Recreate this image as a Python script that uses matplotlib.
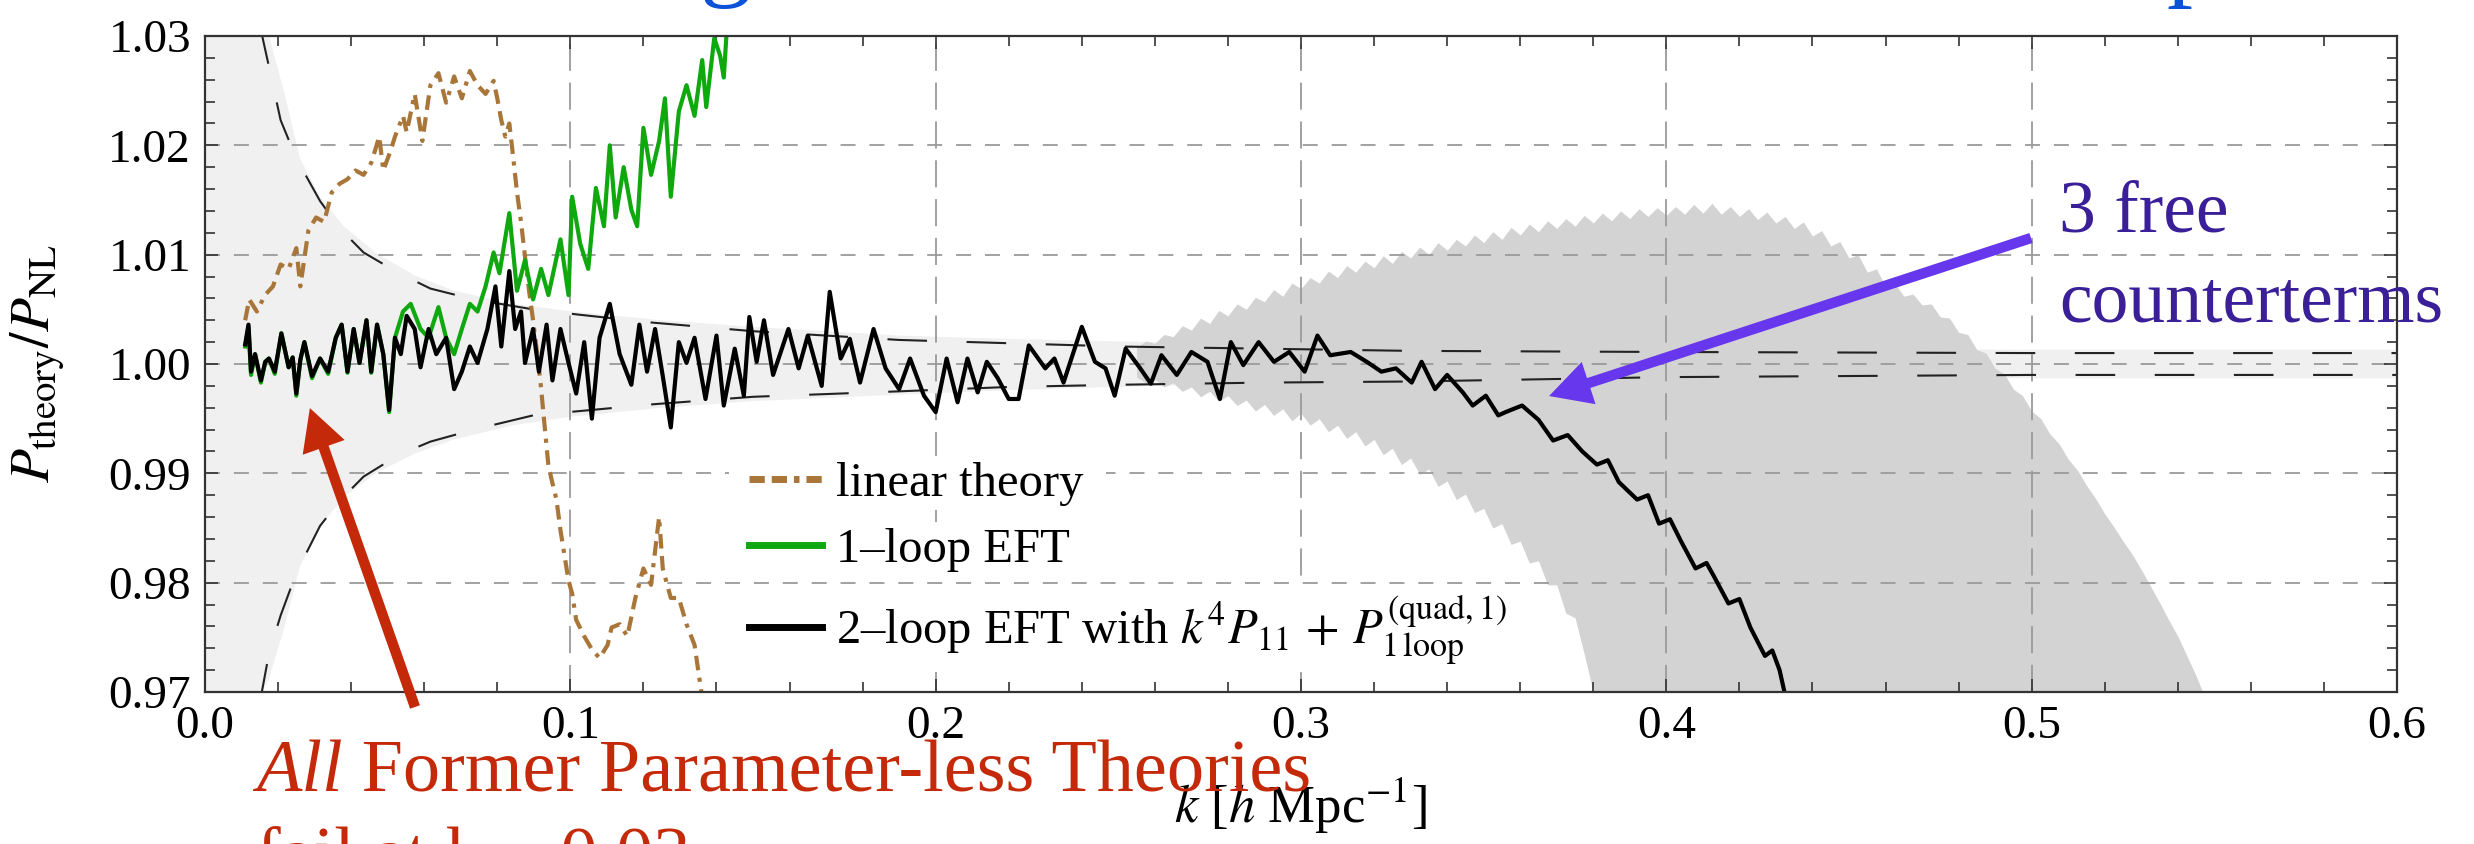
import numpy as np
import matplotlib
matplotlib.use('Agg')
import matplotlib.pyplot as plt
from matplotlib.lines import Line2D
from matplotlib.patches import Rectangle
from matplotlib.ticker import MultipleLocator, FormatStrFormatter

plt.rcParams['font.family'] = ['Liberation Serif', 'DejaVu Serif']
plt.rcParams['mathtext.fontset'] = 'stix'

# ---- data ----
# 2-loop EFT (black)
k_2loop = np.array([
    0.0110, 0.0119, 0.0126, 0.0137, 0.0153, 0.0165, 0.0175, 0.0191, 0.0209, 0.0229,
    0.0240, 0.0250, 0.0261, 0.0272, 0.0293, 0.0315, 0.0337, 0.0358, 0.0374, 0.0390,
    0.0407, 0.0423, 0.0442, 0.0455, 0.0471, 0.0488, 0.0504, 0.0520, 0.0536, 0.0552,
    0.0574, 0.0590, 0.0612, 0.0633, 0.0660, 0.0682, 0.0703, 0.0725, 0.0746, 0.0773,
    0.0795, 0.0811, 0.0833, 0.0849, 0.0865, 0.0876, 0.0898, 0.0914, 0.0935, 0.0951,
    0.0973, 0.0995, 0.1016, 0.1038, 0.1059, 0.1080, 0.1108, 0.1135, 0.1167, 0.1189,
    0.1210, 0.1232, 0.1253, 0.1275, 0.1297, 0.1318, 0.1340,
    0.1370, 0.1400, 0.1420, 0.1450, 0.1475, 0.1490, 0.1510, 0.1530, 0.1555, 0.1597,
    0.1625, 0.1650, 0.1688, 0.1710, 0.1740, 0.1765, 0.1793, 0.1830, 0.1863, 0.1900,
    0.1930, 0.1968, 0.2000, 0.2030, 0.2060, 0.2087, 0.2115, 0.2140, 0.2170, 0.2200,
    0.2227, 0.2255, 0.2300, 0.2325, 0.2350, 0.2400, 0.2436, 0.2465, 0.2490, 0.2520,
    0.2560, 0.2589, 0.2618, 0.2660, 0.2700, 0.2744, 0.2778, 0.2808, 0.2842, 0.2884,
    0.2926, 0.2968, 0.3010, 0.3045, 0.3080, 0.3136, 0.3180, 0.3220, 0.3260, 0.3303,
    0.3330, 0.3367, 0.3400, 0.3443, 0.3470, 0.3506, 0.3540,
    0.3560, 0.3605, 0.3650, 0.3690, 0.3730, 0.3770, 0.3810, 0.3840, 0.3870, 0.3920,
    0.3950, 0.3980, 0.4010, 0.4040, 0.4080, 0.4110, 0.4130, 0.4170, 0.4200, 0.4230,
    0.4270, 0.4290, 0.4310, 0.4330])
r_2loop = np.array([
    1.0018, 1.0036, 0.9993, 1.0009, 0.9985, 1.0002, 1.0005, 0.9993, 1.0028, 0.9997,
    1.0006, 0.9973, 1.0004, 1.0020, 0.9989, 1.0005, 0.9993, 1.0024, 1.0036, 0.9993,
    1.0032, 1.0001, 1.0040, 0.9993, 1.0036, 1.0009, 0.9958, 1.0024, 1.0009, 1.0044,
    1.0032, 0.9997, 1.0032, 1.0009, 1.0024, 0.9977, 0.9993, 1.0016, 1.0001, 1.0032,
    1.0071, 1.0016, 1.0085, 1.0032, 1.0048, 1.0001, 1.0032, 0.9993, 1.0036, 0.9985,
    1.0032, 1.0001, 0.9973, 1.0020, 0.9950, 1.0024, 1.0055, 1.0009, 0.9981, 1.0036,
    0.9993, 1.0032, 0.9989, 0.9942, 1.0020, 1.0001, 1.0024,
    0.9968, 1.0026, 0.9962, 1.0014, 0.9971, 1.0043, 1.0002, 1.0040, 0.9990, 1.0032,
    0.9996, 1.0026, 0.9980, 1.0066, 1.0005, 1.0023, 0.9983, 1.0032, 0.9996, 0.9977,
    1.0005, 0.9971, 0.9956, 1.0005, 0.9965, 1.0005, 0.9974, 1.0002, 0.9987, 0.9968,
    0.9968, 1.0017, 0.9996, 1.0005, 0.9983, 1.0034, 1.0002, 0.9996, 0.9971, 1.0014,
    0.9996, 0.9982, 1.0008, 0.9990, 1.0011, 1.0002, 0.9968, 1.0020, 0.9999, 1.0020,
    1.0002, 1.0011, 0.9993, 1.0026, 1.0008, 1.0011, 1.0002, 0.9993, 0.9996, 0.9983,
    1.0002, 0.9977, 0.9990, 0.9974, 0.9962, 0.9971, 0.9953,
    0.9956, 0.9962, 0.9949, 0.9930, 0.9935, 0.9920, 0.9908, 0.9912, 0.9892, 0.9876,
    0.9880, 0.9854, 0.9858, 0.9838, 0.9813, 0.9818, 0.9806, 0.9781, 0.9785, 0.9759,
    0.9733, 0.9738, 0.9720, 0.9690])

# 1-loop EFT (green)
k_1loop = np.array([
    0.0110, 0.0119, 0.0126, 0.0137, 0.0153, 0.0165, 0.0175, 0.0191, 0.0209, 0.0229,
    0.0240, 0.0250, 0.0261, 0.0272, 0.0293, 0.0315, 0.0337, 0.0358, 0.0374, 0.0390,
    0.0407, 0.0423, 0.0442, 0.0455, 0.0471, 0.0488, 0.0504, 0.0520,
    0.0542, 0.0563, 0.0590, 0.0612, 0.0639, 0.0660, 0.0682, 0.0703, 0.0725, 0.0746,
    0.0768, 0.0790, 0.0806, 0.0833, 0.0854, 0.0876, 0.0898, 0.0920, 0.0940, 0.0973,
    0.0995, 0.1005, 0.1027, 0.1049, 0.1070, 0.1092, 0.1108, 0.1124, 0.1146, 0.1167,
    0.1183, 0.1200, 0.1221, 0.1243, 0.1259, 0.1275, 0.1297, 0.1318, 0.1340, 0.1361,
    0.1372, 0.1394, 0.1410, 0.1420, 0.1430])
r_1loop = np.array([
    1.0016, 1.0034, 0.9990, 1.0009, 0.9983, 1.0002, 1.0005, 0.9991, 1.0028, 0.9997,
    1.0006, 0.9971, 1.0004, 1.0020, 0.9987, 1.0005, 0.9991, 1.0024, 1.0036, 0.9992,
    1.0032, 1.0001, 1.0040, 0.9992, 1.0036, 1.0009, 0.9956, 1.0024,
    1.0048, 1.0055, 1.0032, 1.0024, 1.0052, 1.0024, 1.0009, 1.0032, 1.0055, 1.0048,
    1.0071, 1.0102, 1.0083, 1.0138, 1.0067, 1.0095, 1.0059, 1.0087, 1.0063, 1.0114,
    1.0063, 1.0153, 1.0110, 1.0087, 1.0161, 1.0126, 1.0200, 1.0134, 1.0180, 1.0141,
    1.0126, 1.0216, 1.0173, 1.0204, 1.0243, 1.0153, 1.0231, 1.0255, 1.0227, 1.0278,
    1.0235, 1.0298, 1.0282, 1.0262, 1.0315])

# linear theory (brown)
k_lin = np.array([
    0.0110, 0.0121, 0.0142, 0.0164, 0.0186, 0.0207, 0.0229, 0.0250, 0.0261, 0.0283,
    0.0304, 0.0326, 0.0347, 0.0369, 0.0390, 0.0412, 0.0434, 0.0455, 0.0477, 0.0488,
    0.0509, 0.0520, 0.0542, 0.0552, 0.0574, 0.0595, 0.0617, 0.0639, 0.0660, 0.0682,
    0.0703, 0.0725, 0.0746, 0.0768, 0.0790, 0.0800, 0.0811, 0.0822, 0.0833, 0.0844,
    0.0854, 0.0865, 0.0876, 0.0887, 0.0898, 0.0908, 0.0919, 0.0930, 0.0940, 0.0951,
    0.0962, 0.0973, 0.0984, 0.0995, 0.1005, 0.1016, 0.1038, 0.1059, 0.1080, 0.1102,
    0.1113, 0.1135, 0.1156, 0.1178, 0.1200, 0.1221, 0.1243, 0.1253, 0.1275, 0.1297,
    0.1318, 0.1340, 0.1350, 0.1361])
r_lin = np.array([
    1.0040, 1.0059, 1.0048, 1.0063, 1.0071, 1.0091, 1.0087, 1.0106, 1.0071, 1.0122,
    1.0134, 1.0130, 1.0157, 1.0165, 1.0169, 1.0177, 1.0173, 1.0184, 1.0208, 1.0177,
    1.0196, 1.0208, 1.0227, 1.0212, 1.0247, 1.0204, 1.0255, 1.0266, 1.0239, 1.0263,
    1.0243, 1.0268, 1.0255, 1.0247, 1.0259, 1.0243, 1.0223, 1.0208, 1.0220, 1.0188,
    1.0157, 1.0130, 1.0098, 1.0067, 1.0040, 1.0013, 0.9981, 0.9942, 0.9907, 0.9891,
    0.9876, 0.9848, 0.9825, 0.9802, 0.9790, 0.9766, 0.9751, 0.9739, 0.9731, 0.9743,
    0.9759, 0.9762, 0.9751, 0.9786, 0.9813, 0.9798, 0.9860, 0.9813, 0.9786, 0.9786,
    0.9762, 0.9743, 0.9720, 0.9695])

# light error band and its dashed edges
k_band = np.array([0.0, 0.0175, 0.0218, 0.026, 0.0315, 0.038, 0.0466, 0.0574, 0.0682,
                   0.0844, 0.1005, 0.125, 0.15, 0.19, 0.22, 0.26, 0.30, 0.35, 0.40,
                   0.45, 0.50, 0.55, 0.60])
band_hi = np.array([1.040, 1.0300, 1.0247, 1.0188, 1.0153, 1.0126, 1.0102, 1.0081, 1.0067,
                    1.0055, 1.0048, 1.0040, 1.0034, 1.0026, 1.0023, 1.0020, 1.0018, 1.0016,
                    1.0015, 1.0014, 1.0013, 1.0013, 1.0013])
band_lo = np.array([0.960, 0.9712, 0.9760, 0.9815, 0.9852, 0.9878, 0.9900, 0.9918, 0.9931,
                    0.9944, 0.9952, 0.9960, 0.9966, 0.9972, 0.9976, 0.9980, 0.9982, 0.9984,
                    0.9985, 0.9986, 0.9987, 0.9987, 0.9987])

k_edge = np.array([0.0150, 0.0175, 0.0207, 0.025, 0.0315, 0.0369, 0.0434, 0.0531, 0.0617,
                   0.0736, 0.0898, 0.1027, 0.122, 0.15, 0.19, 0.22, 0.25, 0.29, 0.33,
                   0.40, 0.50, 0.60])
edge_hi = np.array([1.0310, 1.0272, 1.0223, 1.0188, 1.0149, 1.0124, 1.0102, 1.0083, 1.0069,
                    1.0059, 1.0050, 1.0045, 1.0038, 1.0030, 1.0022, 1.0019, 1.0016, 1.0014,
                    1.0012, 1.0011, 1.0010, 1.0010])
edge_lo = np.array([0.9690, 0.9735, 0.9770, 0.9809, 0.9852, 0.9875, 0.9897, 0.9917, 0.9929,
                    0.9940, 0.9953, 0.9957, 0.9963, 0.9970, 0.9975, 0.9979, 0.9981, 0.9983,
                    0.9984, 0.9988, 0.9990, 0.9990])

# dark band (noisy), k = 0.255 ... 0.55 in steps of 0.0025
k_dark = np.arange(0.255, 0.5501, 0.0025)
dark_hi = np.array([
    1.0015, 1.0021, 1.0019, 1.0027, 1.0025, 1.0035, 1.0031, 1.0042, 1.0037, 1.0049,
    1.0044, 1.0055, 1.0050, 1.0061, 1.0057, 1.0068, 1.0062, 1.0074, 1.0069, 1.0079,
    1.0074, 1.0085, 1.0079, 1.0090, 1.0084, 1.0094, 1.0088, 1.0099, 1.0092, 1.0103,
    1.0097, 1.0107, 1.0100, 1.0111, 1.0104, 1.0114, 1.0108, 1.0118, 1.0111, 1.0121,
    1.0114, 1.0125, 1.0118, 1.0128, 1.0121, 1.0131, 1.0124, 1.0133, 1.0126, 1.0136,
    1.0129, 1.0138, 1.0131, 1.0140, 1.0133, 1.0142, 1.0135, 1.0143, 1.0136, 1.0144,
    1.0137, 1.0146, 1.0138, 1.0147, 1.0137, 1.0144, 1.0135, 1.0142, 1.0132, 1.0139,
    1.0129, 1.0135, 1.0124, 1.0130, 1.0117, 1.0122, 1.0108, 1.0112, 1.0097, 1.0100,
    1.0084, 1.0087, 1.0071, 1.0074, 1.0062, 1.0064, 1.0054, 1.0055, 1.0043, 1.0042,
    1.0029, 1.0027, 1.0013, 1.0010, 0.9996, 0.9991, 0.9977, 0.9971, 0.9957, 0.9950,
    0.9936, 0.9927, 0.9913, 0.9903, 0.9889, 0.9877, 0.9863, 0.9851, 0.9838, 0.9826,
    0.9812, 0.9797, 0.9782, 0.9766, 0.9751, 0.9733, 0.9715, 0.9694, 0.9670])
dark_lo = np.array([
    0.9988, 0.9983, 0.9986, 0.9979, 0.9983, 0.9975, 0.9979, 0.9970, 0.9975, 0.9966,
    0.9971, 0.9962, 0.9967, 0.9957, 0.9963, 0.9953, 0.9959, 0.9948, 0.9955, 0.9944,
    0.9950, 0.9938, 0.9944, 0.9932, 0.9938, 0.9925, 0.9931, 0.9917, 0.9923, 0.9908,
    0.9914, 0.9899, 0.9904, 0.9888, 0.9893, 0.9876, 0.9881, 0.9864, 0.9868, 0.9850,
    0.9854, 0.9835, 0.9838, 0.9818, 0.9820, 0.9798, 0.9798, 0.9772, 0.9768, 0.9735,
    0.9700, 0.9650] + [0.9600] * 67)

legend_labels = ['linear theory', '1\u2013loop EFT',
                 '2\u2013loop EFT with $k^4P_{11}\\,+\\,P^{(\\mathrm{quad,1})}_{1\\,\\mathrm{loop}}$']

# ---- colours ----
c_brown = '#A9763A'
c_green = '#0FA80F'
c_red = '#C42A0A'
c_blue_txt = '#3A1F98'
c_blue_arr = '#6637EC'
c_title = '#0A52D8'

W, H = 2474, 844
fig = plt.figure(figsize=(W / 100, H / 100), dpi=100)
ax = fig.add_axes([205 / W, (H - 692) / H, 2192 / W, 656 / H])

ax.fill_between(k_band, band_lo, band_hi, color='#f0f0f0', lw=0, zorder=0.5)
ax.fill_between(k_dark, dark_lo, dark_hi, color='#d3d3d3', lw=0, zorder=0.6)
ax.plot(k_edge, edge_hi, color='#222222', lw=1.5, ls=(0, (19, 19)), zorder=1.8)
ax.plot(k_edge, edge_lo, color='#222222', lw=1.5, ls=(0, (19, 19)), zorder=1.8)

ax.plot(k_lin, r_lin, color=c_brown, lw=3.0, ls=(0, (3.5, 1.8, 3.5, 1.8, 1.0, 1.8)), zorder=2)
ax.plot(k_1loop, r_1loop, color=c_green, lw=3.0, zorder=2.1)
ax.plot(k_2loop, r_2loop, color='black', lw=3.0, zorder=2.2)

ax.set_xlim(0, 0.6)
ax.set_ylim(0.97, 1.03)
ax.xaxis.set_major_locator(MultipleLocator(0.1))
ax.xaxis.set_minor_locator(MultipleLocator(0.02))
ax.yaxis.set_major_locator(MultipleLocator(0.01))
ax.yaxis.set_minor_locator(MultipleLocator(0.002))
ax.xaxis.set_major_formatter(FormatStrFormatter('%.1f'))
ax.yaxis.set_major_formatter(FormatStrFormatter('%.2f'))

ax.xaxis.grid(True, which='major', color='#9a9a9a', lw=1.3, ls=(0, (15, 6.5)))
ax.yaxis.grid(True, which='major', color='#9a9a9a', lw=1.3, ls=(0, (8.3, 7.7)))

ax.tick_params(which='both', direction='in', top=True, right=True, color='#333333',
               width=1.2, labelsize=34, pad=10)
ax.tick_params(which='major', length=9.5)
ax.tick_params(which='minor', length=7.5)
for s in ax.spines.values():
    s.set_color('#333333')
    s.set_linewidth(1.6)

ax.set_ylabel('$P_{\\mathrm{theory}}/P_{\\mathrm{NL}}$', fontsize=40)
ax.yaxis.set_label_coords(-0.063, 0.5)
ax.set_xlabel('$k$ [$h$ Mpc$^{-1}$]', fontsize=38, va='baseline')
ax.xaxis.set_label_coords(0.5, -0.2)

handles = [Line2D([], [], color=c_brown, lw=5, ls=(0, (2.2, 1.0, 2.2, 1.0, 0.8, 1.0))),
           Line2D([], [], color=c_green, lw=5),
           Line2D([], [], color='black', lw=5)]
leg = ax.legend(handles, legend_labels, loc='upper left', bbox_to_anchor=(0.2436, 0.366),
                frameon=False, fontsize=35, handlelength=1.5, handletextpad=0.3,
                labelspacing=0.45, borderpad=0.2, borderaxespad=0)

# arrows
ax.annotate('', xy=(0.0287, 0.99597), xycoords='data',
            xytext=(415 / W, 1 - 707 / H), textcoords='figure fraction',
            arrowprops=dict(arrowstyle='simple,head_length=0.6,head_width=0.64,tail_width=0.15',
                            fc=c_red, ec='none', mutation_scale=50, shrinkA=0, shrinkB=0),
            annotation_clip=False, zorder=6)
ax.annotate('', xy=(0.3679, 0.99707), xycoords='data',
            xytext=(2031 / W, 1 - 238 / H), textcoords='figure fraction',
            arrowprops=dict(arrowstyle='simple,head_length=0.6,head_width=0.64,tail_width=0.15',
                            fc=c_blue_arr, ec='none', mutation_scale=50, shrinkA=0, shrinkB=0),
            annotation_clip=False, zorder=6)

# annotation texts
fig.text(2059 / W, 1 - 232 / H, '3 free', fontsize=53, color=c_blue_txt, va='baseline')
fig.text(2059 / W, 1 - 322 / H, 'counterterms', fontsize=53, color=c_blue_txt, va='baseline')

fig.canvas.draw()
rend = fig.canvas.get_renderer()

# white patches behind each legend row (they hide the grid there)
for h, t in zip(leg.legend_handles, leg.get_texts()):
    bh = h.get_window_extent(rend)
    bt = t.get_window_extent(rend)
    x0, x1 = bh.x0 - 20, bt.x1 + 22
    y0, y1 = min(bh.y0, bt.y0) - 4, max(bh.y1, bt.y1) + 6
    ax.add_patch(Rectangle((x0 / W, y0 / H), (x1 - x0) / W, (y1 - y0) / H,
                           transform=fig.transFigure, fc='white', ec='none', zorder=1.7))

t_all = fig.text(256 / W, 1 - 791 / H, 'All', fontsize=53.5, style='italic', color=c_red,
                 va='baseline')
bb = t_all.get_window_extent(rend)
fig.text(bb.x1 / W, 1 - 791 / H, ' Former Parameter-less Theories', fontsize=53.5,
         color=c_red, va='baseline')
fig.text(256 / W, 1 - 877 / H, 'fail at k ~ 0.03', fontsize=53.5, color=c_red, va='baseline')

# bits of the slide title, cut off at the top
fig.text(700 / W, 1 + 13 / H, 'g', fontsize=75, color=c_title, va='baseline')
fig.text(2166 / W, 1 + 13 / H, 'p', fontsize=75, color=c_title, va='baseline')

fig.savefig('out.png', dpi=100)
